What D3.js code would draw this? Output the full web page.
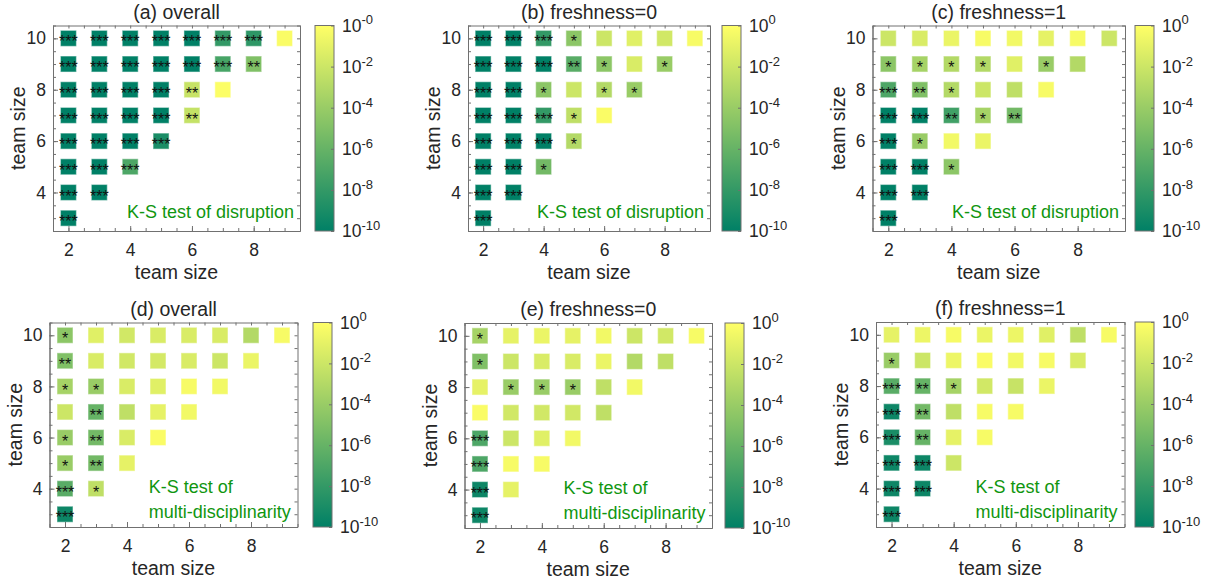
<!DOCTYPE html>
<html><head><meta charset="utf-8">
<script src="https://cdn.jsdelivr.net/npm/d3@7"></script>
<style>
body{margin:0;background:#fff}
svg{font-family:"Liberation Sans",Arial,Helvetica,sans-serif}
</style>
</head><body>
<svg id="chart" width="1211" height="581"></svg>
<script>
// ---------- data ----------
const columnSizes = [2, 3, 4, 5, 6, 7, 8, 9];     // x team size; rows run y = x+1 .. 10
const xTickValues = [2, 4, 6, 8];
const yTickValues = [4, 6, 8, 10];
const cbTickValues = [-10, -8, -6, -4, -2, 0];     // log10(p)
const panelTitles = ["(a) overall", "(b) freshness=0", "(c) freshness=1",
                     "(d) overall", "(e) freshness=0", "(f) freshness=1"];
const annotationLines = [["K-S test of disruption"], ["K-S test of disruption"], ["K-S test of disruption"],
                         ["K-S test of", "multi-disciplinarity"], ["K-S test of", "multi-disciplinarity"], ["K-S test of", "multi-disciplinarity"]];
const topExponentLabels = ["-0", "0", "0", "0", "0", "0"];

// log10(p) per column (x = 2..9), rows y = x+1 .. 10
const logP_a = [
  [-10,-10,-10,-10,-10,-10,-10,-10],
  [-10,-10,-10,-10,-10,-10,-10],
  [-7,-10,-10,-10,-10,-10],
  [-9,-10,-10,-10,-10],
  [-2.3,-2.2,-10,-10],
  [-0.1,-7.2,-8],
  [-5,-8.2],
  [-0.2]];
const stars_a = [
  ["***","***","***","***","***","***","***","***"],
  ["***","***","***","***","***","***","***"],
  ["***","***","***","***","***","***"],
  ["***","***","***","***","***"],
  ["**","**","***","***"],
  ["","***","***"],
  ["**","***"],
  [""]];

const logP_b = [
  [-10,-10,-10,-10,-10,-10,-10,-10],
  [-10,-10,-10,-10,-10,-10,-10],
  [-5.5,-10,-8,-4.5,-10,-8],
  [-3,-2.5,-2,-6.5,-4.5],
  [-0.2,-3,-4.5,-2],
  [-4,-1.5,-1.2],
  [-4,-1.8],
  [-0.3]];
const stars_b = [
  ["***","***","***","***","***","***","***","***"],
  ["***","***","***","***","***","***","***"],
  ["*","***","***","*","***","***"],
  ["*","*","","**","*"],
  ["","*","*",""],
  ["*","",""],
  ["*",""],
  [""]];

const logP_c = [
  [-10,-10,-10,-10,-10,-7,-4.5,-2],
  [-10,-10,-4,-10,-5,-3.5,-1.5],
  [-4.5,-0.5,-7.5,-3,-3,-0.8],
  [-0.8,-3.5,-2,-3,-0.3],
  [-5.5,-2.5,-1.2,-0.5],
  [-0.3,-4,-1],
  [-3,-0.3],
  [-2]];
const stars_c = [
  ["***","***","***","***","***","***","*",""],
  ["***","***","*","***","**","*",""],
  ["*","","**","*","*",""],
  ["","*","","*",""],
  ["**","","",""],
  ["","*",""],
  ["",""],
  [""]];

const logP_d = [
  [-9.5,-6.5,-4,-4,-2,-3.5,-5,-4.5],
  [-2.5,-5.5,-5.5,-6,-4,-1.5,-1.2],
  [-1,-1.5,-2.5,-1.5,-1.8,-1.8],
  [-0.2,-1,-1.2,-1.7,-1.5],
  [-0.5,-0.3,-1.5,-1.5],
  [-0.5,-2,-1.5],
  [-0.8,-3],
  [-0.3]];
const stars_d = [
  ["***","***","*","*","","*","**","*"],
  ["*","**","**","**","*","",""],
  ["","","","","",""],
  ["","","","",""],
  ["","","",""],
  ["","",""],
  ["",""],
  [""]];

const logP_e = [
  [-9.5,-9.5,-7,-7,-0.2,-1,-5,-3.5],
  [-1,-0.3,-2,-1.8,-4,-2,-1],
  [-0.3,-1.2,-1.8,-4,-1.5,-0.8],
  [-0.5,-1.8,-4,-1.5,-1],
  [-2.5,-2.5,-0.8,-0.5],
  [-0.5,-3,-2],
  [-2.5,-1.8],
  [-0.3]];
const stars_e = [
  ["***","***","***","***","","","*","*"],
  ["","","","","*","",""],
  ["","","","*","",""],
  ["","","*","",""],
  ["","","",""],
  ["","",""],
  ["",""],
  [""]];

const logP_f = [
  [-9.5,-9.5,-9.5,-9,-9.5,-6.5,-4,-1],
  [-9.5,-9.5,-6,-5.5,-6,-2,-0.7],
  [-2,-1,-2.5,-3.5,-0.7,-0.3],
  [-0.3,-0.3,-1.8,-0.2,-0.8],
  [-0.3,-2.2,-0.5,-0.7],
  [-0.8,-0.3,-1.2],
  [-1.5,-2.5],
  [-0.3]];
const stars_f = [
  ["***","***","***","***","***","***","*",""],
  ["***","***","**","**","**","",""],
  ["","","","*","",""],
  ["","","","",""],
  ["","","",""],
  ["","",""],
  ["",""],
  [""]];

const allLogP = [logP_a, logP_b, logP_c, logP_d, logP_e, logP_f];
const allStars = [stars_a, stars_b, stars_c, stars_d, stars_e, stars_f];

// ---------- layout ----------
const layout = [
  {left:53,  right:300,  top:25.5, bottom:231,   cb:315},
  {left:468, right:710,  top:25.5, bottom:231,   cb:722},
  {left:872.5,right:1125,top:25.5, bottom:231,   cb:1135},
  {left:49.5,right:297.5,top:322.5,bottom:527,   cb:313},
  {left:464.5,right:712, top:323,  bottom:528,   cb:725},
  {left:876, right:1124.5,top:322, bottom:527,   cb:1135}
];
const cbWidth = 19, cellSize = 16;
const tickFont = 17.5, labelFont = 19.5, annFont = 18, starFont = 16;
const axisColor = "#707070", textColor = "#262626";

const svg = d3.select("#chart");
const color = d3.scaleLinear().domain([-10, 0])
  .range(["rgb(0,128,102)", "rgb(255,255,102)"]).clamp(true);

const defs = svg.append("defs");
const grad = defs.append("linearGradient").attr("id","summer")
  .attr("x1",0).attr("y1",1).attr("x2",0).attr("y2",0);
d3.range(-10, 0.001, 1).forEach(v => {
  grad.append("stop").attr("offset", (v + 10) / 10).attr("stop-color", color(v));
});

function styleAxis(g){
  g.selectAll("path.domain").attr("stroke", axisColor).attr("stroke-width", 1);
  g.selectAll(".tick line").attr("stroke", axisColor);
  g.selectAll(".tick text").attr("fill", textColor).attr("font-size", tickFont)
    .attr("font-family", '"Liberation Sans",Arial,sans-serif');
}

layout.forEach((L, pi) => {
  const x = d3.scaleLinear().domain([1.5, 9.5]).range([L.left, L.right]);
  const y = d3.scaleLinear().domain([2.5, 10.5]).range([L.bottom, L.top]);
  const g = svg.append("g");

  const cells = [];
  allLogP[pi].forEach((col, i) => {
    const tx = columnSizes[i];
    col.forEach((v, j) => cells.push({x: tx, y: tx + 1 + j, v, s: allStars[pi][i][j]}));
  });

  g.selectAll("rect.cell").data(cells).enter().append("rect")
    .attr("class","cell")
    .attr("x", d => x(d.x) - cellSize/2).attr("y", d => y(d.y) - cellSize/2)
    .attr("width", cellSize).attr("height", cellSize)
    .attr("fill", d => color(d.v))
    .attr("stroke", "rgba(255,255,255,0.45)").attr("stroke-width", 1.2);

  g.selectAll("text.star").data(cells.filter(d => d.s)).enter().append("text")
    .attr("class","star")
    .attr("x", d => x(d.x)).attr("y", d => y(d.y) + starFont*0.57)
    .attr("text-anchor","middle").attr("font-size", starFont).attr("fill","#111")
    .text(d => d.s);

  // annotation
  const lines = annotationLines[pi];
  if (lines.length === 1) {
    g.append("text").attr("x", L.right - 6).attr("y", L.bottom - 13)
      .attr("text-anchor","end").attr("font-size", annFont).attr("fill","rgb(16,150,16)")
      .text(lines[0]);
  } else {
    g.append("text").attr("x", x(4.7)).attr("y", L.bottom - 34)
      .attr("font-size", annFont).attr("fill","rgb(16,150,16)").text(lines[0]);
    g.append("text").attr("x", x(4.7)).attr("y", L.bottom - 9)
      .attr("font-size", annFont).attr("fill","rgb(16,150,16)").text(lines[1]);
  }

  // axes (inward ticks, box)
  const halfX = d3.range(1.5, 9.51, 0.5), halfY = d3.range(2.5, 10.51, 0.5);
  const bx = g.append("g").attr("transform",`translate(0,${L.bottom})`)
    .call(d3.axisBottom(x).tickValues(xTickValues).tickSizeInner(-5).tickSizeOuter(0).tickPadding(12.5));
  styleAxis(bx);
  const bxm = g.append("g").attr("transform",`translate(0,${L.bottom})`)
    .call(d3.axisBottom(x).tickValues(halfX).tickSizeInner(-3).tickSizeOuter(0).tickFormat(""));
  styleAxis(bxm);
  const tx = g.append("g").attr("transform",`translate(0,${L.top})`)
    .call(d3.axisTop(x).tickValues(halfX).tickSizeInner(-3).tickSizeOuter(0).tickFormat(""));
  styleAxis(tx);
  const ly = g.append("g").attr("transform",`translate(${L.left},0)`)
    .call(d3.axisLeft(y).tickValues(yTickValues).tickSizeInner(-5).tickSizeOuter(0).tickPadding(7));
  styleAxis(ly);
  const lym = g.append("g").attr("transform",`translate(${L.left},0)`)
    .call(d3.axisLeft(y).tickValues(halfY).tickSizeInner(-3).tickSizeOuter(0).tickFormat(""));
  styleAxis(lym);
  const ry = g.append("g").attr("transform",`translate(${L.right},0)`)
    .call(d3.axisRight(y).tickValues(halfY).tickSizeInner(-3).tickSizeOuter(0).tickFormat(""));
  styleAxis(ry);

  // labels
  const cx = (L.left + L.right) / 2, cy = (L.top + L.bottom) / 2;
  g.append("text").attr("x", cx).attr("y", L.top - 7).attr("text-anchor","middle")
    .attr("font-size", labelFont).attr("fill", textColor).text(panelTitles[pi]);
  g.append("text").attr("x", cx).attr("y", L.bottom + 48).attr("text-anchor","middle")
    .attr("font-size", labelFont).attr("fill", textColor).text("team size");
  g.append("text").attr("transform",`translate(${L.left - 28},${cy}) rotate(-90)`)
    .attr("text-anchor","middle").attr("font-size", labelFont).attr("fill", textColor).text("team size");

  // colorbar
  const cbScale = d3.scaleLinear().domain([-10, 0]).range([L.bottom, L.top]);
  g.append("rect").attr("x", L.cb).attr("y", L.top).attr("width", cbWidth)
    .attr("height", L.bottom - L.top).attr("fill","url(#summer)")
    .attr("stroke", axisColor).attr("stroke-width", 1);
  const cba = g.append("g").attr("transform",`translate(${L.cb + cbWidth},0)`)
    .call(d3.axisRight(cbScale).tickValues(cbTickValues).tickSizeInner(-3).tickSizeOuter(0).tickPadding(8));
  styleAxis(cba);
  cba.select("path.domain").remove();
  cba.selectAll(".tick text").each(function(d){
    const t = d3.select(this);
    t.text(null);
    t.append("tspan").text("10");
    t.append("tspan").attr("dy","-0.55em").attr("font-size", 13)
      .text(d === 0 ? topExponentLabels[pi] : "-" + (-d));
  });
});
</script>
</body></html>
